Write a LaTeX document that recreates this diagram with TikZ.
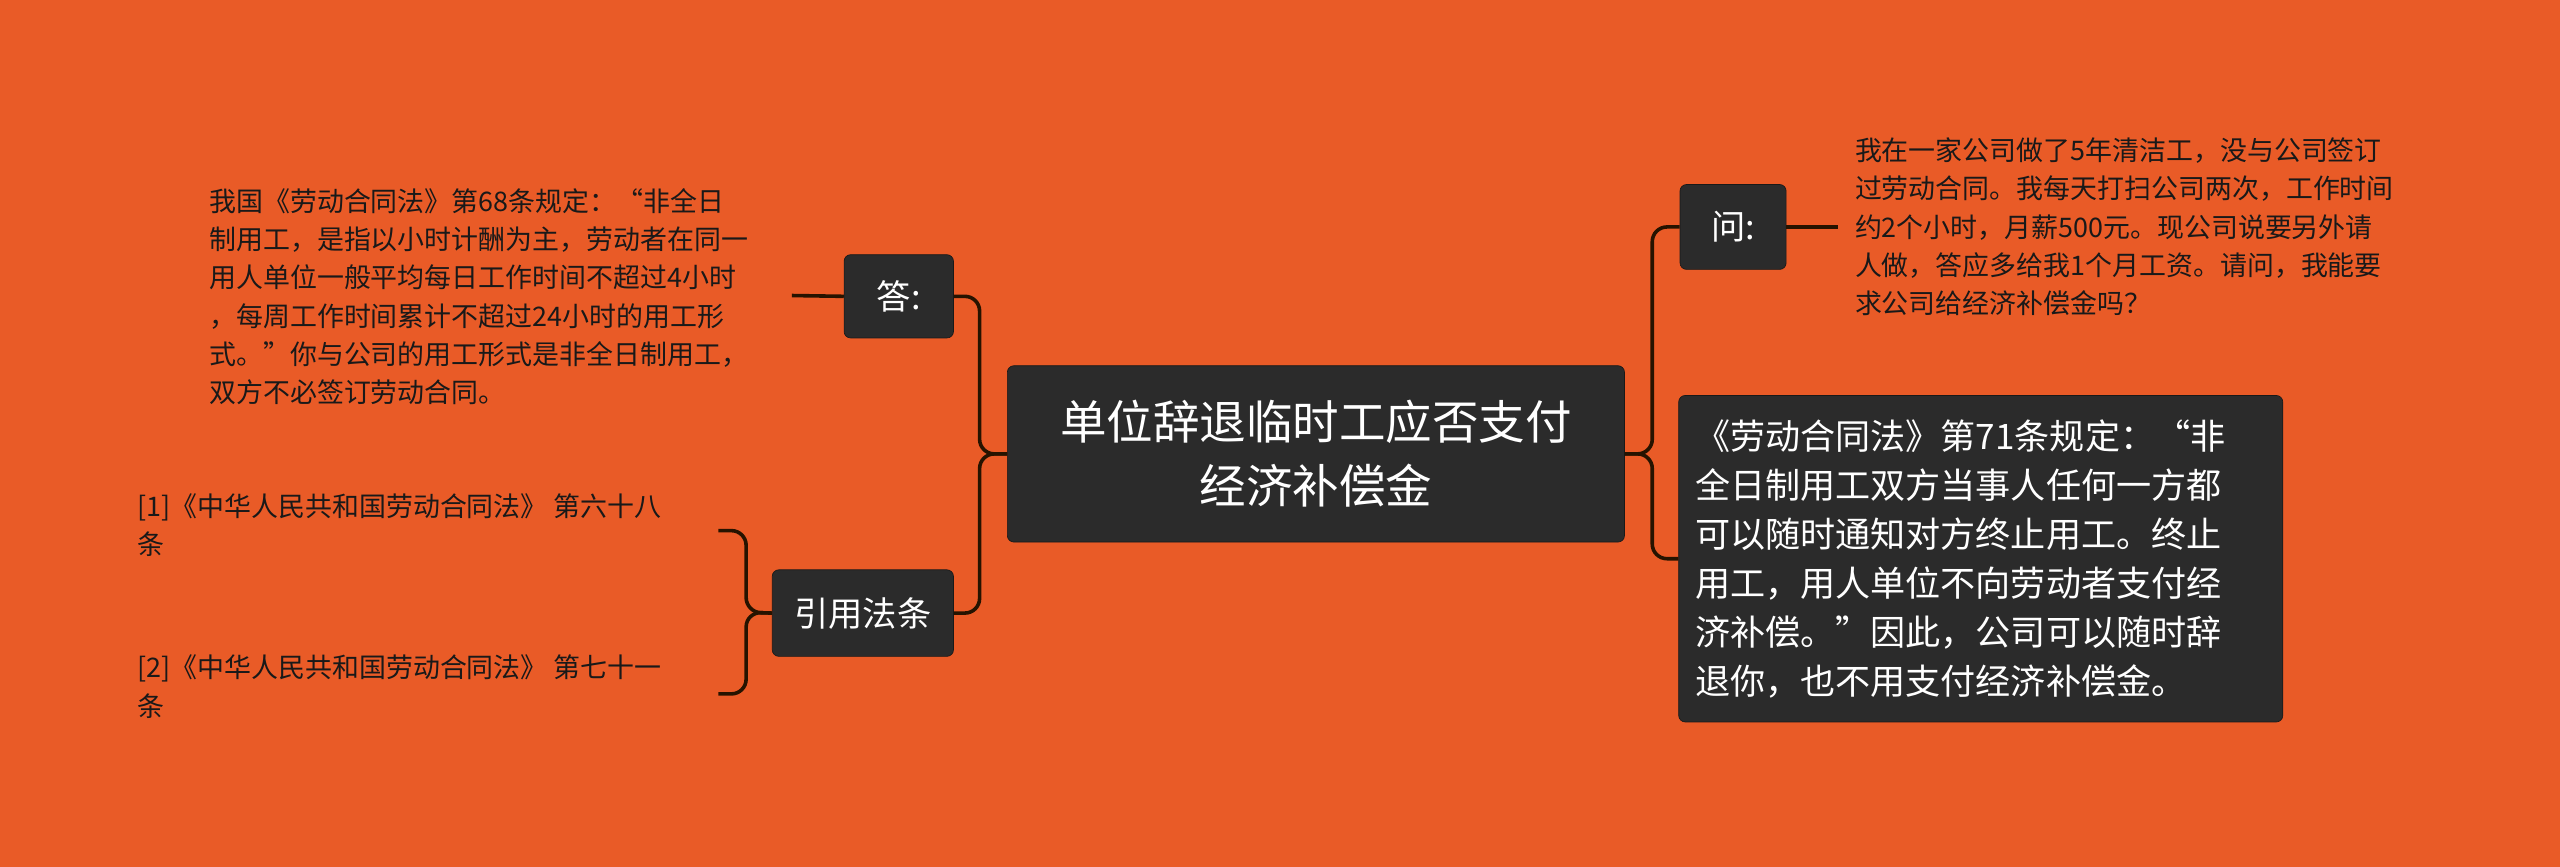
\documentclass[tikz,border=0pt]{standalone}
\usepackage{fontspec}
\setmainfont{Noto Sans CJK SC}
\begin{document}
\begin{tikzpicture}[x=1pt,y=-1pt,
  bx/.style={fill=black!83,draw=black!90,rounded corners=4pt,text=white,inner sep=0pt},
  ln/.style={draw=black!85!orange,line width=2.2pt,rounded corners=9pt},
  sm/.style={anchor=north west,align=left,font=\fontsize{16.5}{23.5}\selectfont,text=black!90,inner sep=0pt}]
\definecolor{bg}{HTML}{E95B27}
\fill[bg] (0,0) rectangle (1568,531);
\useasboundingbox (0,0) rectangle (1568,531);
\node[bx,minimum width=378,minimum height=108,align=center,font=\fontsize{28.5}{39}\selectfont] (c) at (806,278) {单位辞退临时工应否支付\\经济补偿金};
\node[bx,minimum width=67,minimum height=51,font=\fontsize{21}{25}\selectfont] (a) at (550.5,181.5) {答:};
\node[bx,minimum width=111,minimum height=53,font=\fontsize{21}{25}\selectfont] (r) at (528.5,375.5) {引用法条};
\node[bx,minimum width=65,minimum height=52,font=\fontsize{21}{25}\selectfont] (q) at (1061.5,139) {问:};
\node[bx,minimum width=370,minimum height=200,anchor=north west,align=left,text width=350,inner xsep=10pt,font=\fontsize{21.5}{30}\selectfont] (ans) at (1028,242) {《劳动合同法》第71条规定：“非\\全日制用工双方当事人任何一方都\\可以随时通知对方终止用工。终止\\用工，用人单位不向劳动者支付经\\济补偿。”因此，公司可以随时辞\\退你，也不用支付经济补偿金。};
\node[sm] (at) at (128,115) {我国《劳动合同法》第68条规定：“非全日\\制用工，是指以小时计酬为主，劳动者在同一\\用人单位一般平均每日工作时间不超过4小时\\，每周工作时间累计不超过24小时的用工形\\式。”你与公司的用工形式是非全日制用工，\\双方不必签订劳动合同。};
\node[sm] (qt) at (1136,84) {我在一家公司做了5年清洁工，没与公司签订\\过劳动合同。我每天打扫公司两次，工作时间\\约2个小时，月薪500元。现公司说要另外请\\人做，答应多给我1个月工资。请问，我能要\\求公司给经济补偿金吗？};
\node[sm] (r1) at (84,302) {[1]《中华人民共和国劳动合同法》 第六十八\\条};
\node[sm] (r2) at (84,401) {[2]《中华人民共和国劳动合同法》 第七十一\\条};
\coordinate (l1) at (440,325); \coordinate (l2) at (440,425);
\coordinate (ae) at (485,181); \coordinate (qe) at (1126,139);
\draw[ln] (c.west) -- (600,278) |- (a.east);
\draw[ln] (c.west) -- (600,278) |- (r.east);
\draw[ln] (c.east) -- (1012,278) |- (q.west);
\draw[ln] (c.east) -- (1012,278) |- (ans.west);
\draw[ln] (r.west) -- (457,375) |- (l1);
\draw[ln] (r.west) -- (457,375) |- (l2);
\draw[ln,rounded corners=0pt] (a.west) -- (ae);
\draw[ln,rounded corners=0pt] (q.east) -- (qe);
\end{tikzpicture}
\end{document}
